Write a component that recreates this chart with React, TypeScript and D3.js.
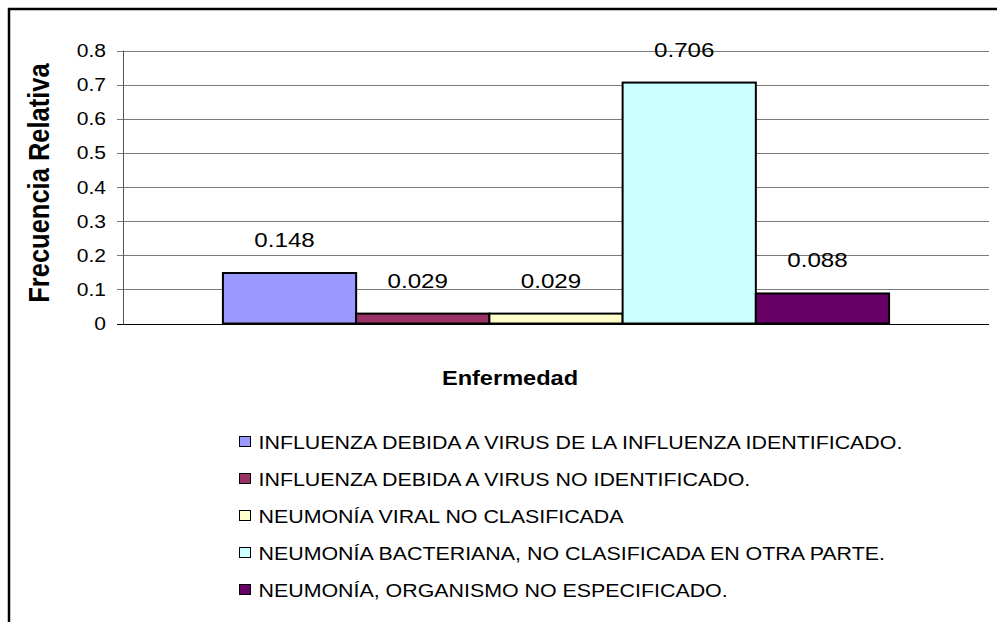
import React from "react";
import * as d3 from "d3";

const seriesNames = [
  "INFLUENZA DEBIDA A VIRUS DE LA INFLUENZA IDENTIFICADO.",
  "INFLUENZA DEBIDA A VIRUS NO IDENTIFICADO.",
  "NEUMONÍA VIRAL NO CLASIFICADA",
  "NEUMONÍA BACTERIANA, NO CLASIFICADA EN OTRA PARTE.",
  "NEUMONÍA, ORGANISMO NO ESPECIFICADO.",
];
const seriesValues = [0.148, 0.029, 0.029, 0.706, 0.088];
const seriesColors = ["#9999FF", "#993366", "#FFFFCC", "#CCFFFF", "#660066"];
const yTicks = [0, 0.1, 0.2, 0.3, 0.4, 0.5, 0.6, 0.7, 0.8];
const categories = ["Enfermedad"];

const FONT = "'Liberation Sans', Arial, sans-serif";
const SX = 1.15;

function T({ x, y, size, anchor = "start", bold = false, rotate = 0, children, sx = SX }: any) {
  return (
    <g transform={`translate(${x},${y}) scale(${sx},1) rotate(${rotate})`}>
      <text
        x={0}
        y={0}
        fontFamily={FONT}
        fontSize={size}
        fontWeight={bold ? "bold" : "normal"}
        textAnchor={anchor}
        fill="#000"
      >
        {children}
      </text>
    </g>
  );
}

export default function App() {
  const W = 997;
  const H = 622;
  const plot = { left: 123, right: 989, top: 50.5, bottom: 323.5 };

  const y = d3.scaleLinear().domain([0, 0.8]).range([plot.bottom, plot.top]);
  const x0 = d3
    .scaleBand()
    .domain(categories)
    .range([plot.left, plot.right])
    .paddingInner(0)
    .paddingOuter(0.15);
  const x1 = d3
    .scaleBand()
    .domain(seriesNames)
    .range([0, x0.bandwidth()])
    .padding(0);

  const legendX = 239;
  const legendY0 = 442;
  const legendStep = 37;

  return (
    <svg
      width={W}
      height={H}
      style={{ position: "absolute", left: 0, top: 0, background: "#fff" }}
    >
      <rect x={0} y={0} width={W} height={H} fill="#fff" />
      <rect x={9} y={9} width={W + 20} height={H + 20} fill="none" stroke="#000" strokeWidth={2.5} />

      {/* gridlines */}
      {yTicks.map((t) => (
        <line
          key={"g" + t}
          x1={plot.left - 6}
          x2={plot.right}
          y1={Math.round(y(t)) + 0.5}
          y2={Math.round(y(t)) + 0.5}
          stroke={t === 0 ? "#000" : "#7a7a7a"}
          strokeWidth={1}
        />
      ))}
      {/* y axis */}
      <line x1={plot.left + 0.5} x2={plot.left + 0.5} y1={plot.top} y2={plot.bottom + 1} stroke="#555" strokeWidth={1} />

      {/* tick labels */}
      {yTicks.map((t) => (
        <T key={"t" + t} x={106} y={y(t) + 6.5} size={18.3} anchor="end">
          {d3.format("")(t)}
        </T>
      ))}

      {/* bars */}
      {categories.map((c) => (
        <g key={c} transform={`translate(${x0(c)},0)`}>
          {seriesNames.map((s, i) => (
            <rect
              key={s}
              x={x1(s)}
              y={y(seriesValues[i])}
              width={x1.bandwidth()}
              height={plot.bottom - y(seriesValues[i])}
              fill={seriesColors[i]}
              stroke="#000"
              strokeWidth={2}
            />
          ))}
          {seriesNames.map((s, i) => (
            <T
              key={"l" + s}
              x={(x1(s) as number) + x1.bandwidth() / 2 - 5}
              y={y(seriesValues[i]) - 26}
              size={21}
              anchor="middle"
            >
              {d3.format(".3f")(seriesValues[i])}
            </T>
          ))}
        </g>
      ))}

      {/* axis titles */}
      <T x={510} y={385} size={20.5} bold anchor="middle">
        {categories[0]}
      </T>
      <T x={49} y={183} size={25.5} bold anchor="middle" rotate={-90}>
        Frecuencia Relativa
      </T>

      {/* legend */}
      {seriesNames.map((s, i) => (
        <g key={"lg" + s}>
          <rect
            x={legendX + 0.5}
            y={legendY0 + i * legendStep - 5.5}
            width={11}
            height={10}
            fill={seriesColors[i]}
            stroke="#000"
            strokeWidth={1}
          />
          <T x={legendX + 19.5} y={legendY0 + i * legendStep + 6.5} size={18.6}>
            {s}
          </T>
        </g>
      ))}
    </svg>
  );
}
